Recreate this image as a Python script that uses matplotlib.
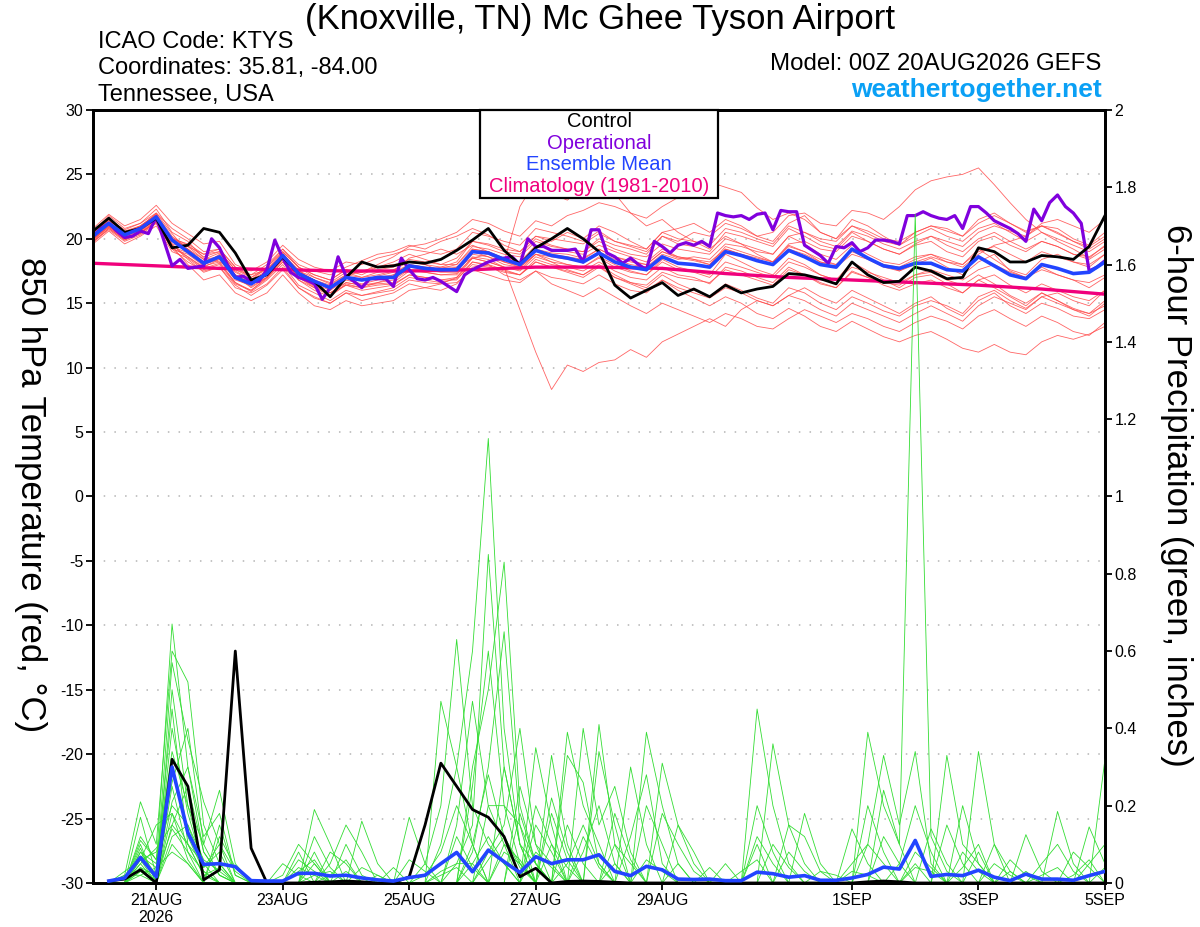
import numpy as np
import matplotlib
matplotlib.use("Agg")
import matplotlib.pyplot as plt
from matplotlib.patches import Rectangle

plt.rcParams["font.family"] = ["Liberation Sans", "DejaVu Sans"]
plt.rcParams["axes.unicode_minus"] = False

# 6-hourly steps from 00Z 20AUG2026 (65 points), operational is 3-hourly (129 points)
control_temp = [20.6, 21.6, 20.5, 20.8, 21.6, 19.3, 19.5, 20.8, 20.5, 18.9,
                16.8, 17.2, 18.6, 17.3, 16.7, 15.5, 17.0, 18.2, 17.8, 17.9, 18.2, 18.1, 18.4,
                19.1, 19.9, 20.8, 19.1, 18.0, 19.3, 20.0, 20.8, 20.0, 19.0,
                16.4, 15.4, 16.0, 16.6, 15.6, 16.1, 15.5, 16.4, 15.8, 16.1, 16.3, 17.3, 17.2, 16.9, 16.5,
                18.2, 17.2, 16.6, 16.7, 17.8, 17.5, 16.9, 17.0, 19.3, 19.0, 18.2, 18.2, 18.7, 18.6, 18.4, 19.4, 21.8]

mean_temp = [20.2, 21.2, 20.3, 20.8, 21.7, 19.9, 19.0, 18.1, 18.6, 17.0,
             16.5, 17.3, 18.7, 17.3, 16.7, 16.2, 17.0, 16.8, 17.0, 17.0, 17.9, 17.7, 17.6,
             17.6, 19.0, 18.9, 18.4, 18.0, 19.1, 18.7, 18.5, 18.2, 18.9,
             18.2, 17.8, 17.6, 18.6, 18.1, 18.0, 17.8, 19.0, 18.7, 18.3, 18.0, 19.1, 18.6, 18.0, 17.8,
             19.2, 18.5, 17.9, 17.7, 18.1, 18.1, 17.6, 17.5, 18.6, 17.9, 17.2, 16.9, 18.0, 17.7, 17.3, 17.4, 18.2]

oper_temp = [20.2, 20.8, 21.2, 20.6, 20.1, 20.2, 20.6, 20.4, 21.7, 19.8,
             17.9, 18.4, 17.7, 17.8, 17.9, 20.0, 19.3, 18.0, 17.0, 17.1,
             16.7, 16.7, 17.6, 19.9, 18.5, 17.4, 17.0, 16.8, 16.5, 15.3,
             16.2, 18.6, 17.1, 16.7, 16.2, 16.9, 16.9, 16.9, 16.3, 18.5,
             17.6, 16.9, 16.8, 17.0, 16.7,
             16.3, 15.9, 17.2, 17.6, 17.9, 18.2, 18.4, 18.5, 18.6, 18.0,
             20.0, 19.4, 19.4, 19.1, 19.1, 19.1, 19.2, 18.2, 20.7, 20.7,
             18.9, 18.6, 18.1, 18.5, 18.0, 17.6, 19.8, 19.4, 18.9, 19.5,
             19.7, 19.5, 19.8, 19.4, 22.0, 21.8, 21.7, 21.8, 21.5, 21.9,
             22.0, 20.7, 22.2,
             22.1, 22.1, 19.5, 19.1, 18.7, 18.1, 19.4, 19.3, 19.7, 19.0,
             19.3, 19.9, 19.9, 19.8, 19.6, 21.8, 21.8, 22.1, 21.8, 21.6,
             21.5, 21.8, 20.8, 22.5, 22.5, 22.0, 21.4, 21.1, 20.8, 20.4,
             19.8, 22.3, 21.4, 22.8, 23.4, 22.5, 22.0, 21.2, 17.5, 17.8, 18.3]

# daily climatology, 20AUG .. 5SEP
clim_temp = [18.1, 17.9, 17.7, 17.6, 17.5, 17.5, 17.6, 17.8, 17.8, 17.7,
             17.3, 17.0, 16.8, 16.6, 16.4, 16.1, 15.7]

temp_members = [
    [20.5, 21.8, 20.8, 21.2, 22.3, 20.5, 19.8, 18.5, 18.2, 17.5,
     16.8, 17.8, 19.2, 18.0, 17.5, 17.2, 17.8, 18.3, 18.8, 19.0, 19.5, 19.2, 19.8,
     20.2, 20.8, 20.3, 19.5, 19.0, 20.2, 19.8, 20.5, 20.0, 21.0,
     20.5, 19.8, 19.2, 20.5, 20.8, 21.2, 20.5, 21.5, 21.0, 20.2, 19.8, 21.2, 21.8, 20.5, 20.0,
     21.5, 21.0, 20.2, 19.5, 20.5, 21.0, 20.8, 20.2, 21.5, 22.0, 21.2, 20.5, 21.0, 20.8, 20.0, 19.5, 20.5],
    [19.8, 20.8, 19.9, 20.5, 21.2, 19.2, 18.2, 17.5, 17.8, 16.2,
     15.8, 16.5, 17.8, 16.2, 15.5, 15.0, 15.8, 15.2, 15.5, 15.8, 16.5, 16.2, 16.0,
     16.5, 17.8, 18.0, 17.2, 16.8, 17.5, 16.5, 16.0, 15.5, 16.2,
     15.5, 14.8, 14.2, 15.0, 14.5, 14.0, 13.5, 14.2, 13.8, 13.2, 13.0, 13.8, 14.5, 14.0, 13.5,
     14.2, 13.8, 13.2, 12.8, 13.5, 14.0, 13.6, 13.0, 14.0, 14.5, 13.8, 13.2, 14.0, 13.5, 12.8, 12.5, 13.5],
    [20.4, 21.4, 20.6, 21.0, 21.9, 20.2, 19.2, 18.0, 18.8, 17.2,
     16.2, 17.0, 18.5, 17.5, 16.8, 16.0, 17.2, 17.5, 17.8, 18.0, 18.2, 18.0, 17.5,
     17.8, 18.5, 18.2, 17.8, 14.5, 11.2, 8.3, 10.2, 9.7, 10.4,
     10.6, 11.4, 10.8, 12.0, 12.6, 13.2, 13.8, 13.2, 14.5, 15.2, 14.8, 15.6, 16.2, 15.5, 15.0,
     16.0, 15.4, 14.8, 14.2, 15.0, 15.5, 14.6, 14.0, 15.2, 15.8, 14.8, 14.2, 15.0, 14.6, 14.0, 13.8, 14.5],
    [20.0, 21.0, 20.1, 20.6, 21.5, 19.6, 19.4, 18.8, 19.2, 17.8,
     17.0, 17.8, 19.0, 17.8, 17.0, 16.6, 17.4, 17.0, 17.2, 17.5, 18.5, 18.8, 19.2,
     18.8, 19.5, 19.0, 18.2, 22.5, 24.5, 23.5, 23.0, 24.0, 24.2,
     23.5, 22.0, 21.0, 21.5, 20.5, 19.8, 19.2, 20.2, 19.6, 18.8, 18.2, 19.5, 19.0, 18.2, 18.0,
     19.2, 18.5, 18.0, 17.5, 18.0, 18.5, 17.8, 17.2, 18.2, 18.8, 17.5, 17.0, 17.8, 17.2, 16.8, 16.2, 17.0],
    [20.6, 21.6, 20.5, 20.9, 22.0, 20.8, 20.0, 19.0, 19.2, 17.8,
     17.2, 17.6, 19.0, 17.8, 17.2, 16.8, 17.6, 17.2, 17.8, 18.2, 18.8, 18.4, 18.0,
     18.5, 19.8, 19.5, 19.0, 18.8, 20.0, 19.5, 19.2, 19.0, 20.0,
     19.5, 19.2, 18.8, 20.2, 19.8, 20.5, 20.2, 21.2, 20.8, 20.2, 20.5, 21.8, 22.0, 21.2, 21.0,
     22.2, 22.0, 21.5, 22.5, 23.8, 24.5, 24.8, 25.0, 25.5, 24.2, 22.8, 21.5, 20.5, 19.8, 19.2, 18.5, 19.5],
    [19.6, 20.6, 19.6, 20.2, 21.0, 19.0, 18.5, 17.6, 18.0, 16.5,
     16.0, 17.0, 18.2, 16.8, 16.0, 15.5, 16.5, 16.2, 16.4, 16.5, 17.2, 17.0, 16.8,
     16.8, 18.2, 18.0, 17.6, 17.2, 18.4, 18.0, 17.8, 17.5, 18.2,
     17.5, 17.0, 16.8, 17.8, 17.2, 17.0, 16.5, 17.8, 17.5, 17.0, 16.6, 17.8, 17.2, 16.5, 16.2,
     17.5, 17.0, 16.4, 16.0, 16.5, 16.8, 16.2, 15.8, 16.8, 17.2, 16.4, 15.8, 16.5, 16.0, 15.5, 15.2, 16.0],
    [20.8, 21.9, 21.0, 21.5, 22.6, 21.2, 20.4, 19.6, 19.8, 18.0,
     17.5, 18.2, 19.5, 18.4, 17.8, 17.5, 18.2, 18.0, 18.5, 18.8, 19.2, 19.0, 18.8,
     19.2, 20.5, 20.2, 19.8, 19.5, 20.8, 20.5, 20.2, 19.8, 20.6,
     19.8, 19.4, 19.0, 20.2, 19.6, 19.4, 19.0, 20.5, 20.2, 19.8, 19.4, 20.8, 20.2, 19.5, 19.2,
     20.5, 19.8, 19.2, 18.8, 19.5, 19.8, 19.0, 18.6, 19.8, 20.2, 19.5, 19.0, 19.8, 19.4, 18.8, 18.4, 19.2],
    [20.0, 20.9, 20.0, 20.4, 21.4, 19.4, 18.0, 16.8, 17.2, 15.8,
     15.2, 15.8, 17.2, 15.8, 14.8, 14.5, 15.2, 14.8, 15.0, 15.2, 16.0, 16.2, 16.5,
     17.0, 18.5, 18.8, 18.2, 17.8, 18.8, 18.4, 18.0, 17.8, 18.6,
     18.0, 17.5, 17.2, 18.4, 17.8, 17.5, 17.2, 18.8, 18.2, 17.6, 17.2, 18.5, 18.0, 17.2, 16.8,
     18.2, 17.5, 16.8, 16.2, 17.0, 17.2, 16.5, 15.8, 16.8, 16.2, 15.5, 14.8, 15.8, 15.2, 14.5, 14.0, 15.0],
    [20.2, 21.2, 20.4, 20.9, 21.8, 20.0, 19.4, 18.4, 18.9, 17.4,
     16.8, 17.5, 18.8, 17.6, 16.5, 16.0, 16.8, 16.5, 16.8, 17.2, 18.0, 17.8, 17.6,
     17.5, 19.2, 19.0, 18.5, 18.2, 19.5, 19.2, 19.0, 18.8, 19.5,
     19.0, 18.6, 18.2, 19.2, 18.6, 18.4, 18.0, 19.4, 19.0, 18.6, 18.2, 19.6, 19.8, 19.2, 19.0,
     20.2, 19.8, 19.2, 18.8, 19.6, 20.2, 19.8, 19.4, 20.5, 21.0, 20.6, 20.2, 21.2, 21.5, 21.0, 20.5, 21.5],
    [19.9, 21.0, 20.2, 20.6, 21.5, 19.5, 18.6, 17.8, 18.4, 16.8,
     16.4, 17.2, 18.6, 17.0, 16.4, 15.8, 16.6, 16.4, 16.5, 16.6, 17.5, 17.4, 17.2,
     17.2, 18.6, 18.4, 17.8, 17.6, 18.8, 18.2, 17.6, 17.2, 18.0,
     17.2, 16.6, 16.2, 17.2, 16.5, 16.0, 15.5, 16.5, 16.0, 15.4, 15.0, 16.2, 15.8, 15.0, 14.5,
     15.5, 15.0, 14.4, 14.0, 14.8, 15.2, 14.8, 14.2, 15.5, 16.0, 15.2, 14.6, 15.5, 15.0, 14.5, 14.2, 15.2],
    [20.3, 21.3, 20.2, 20.7, 21.6, 19.8, 19.2, 18.2, 18.5, 17.0,
     16.6, 17.4, 18.9, 17.4, 16.8, 16.4, 17.2, 17.0, 17.4, 17.6, 18.2, 18.0, 17.8,
     17.8, 19.0, 18.6, 18.0, 17.8, 18.8, 18.6, 18.4, 18.2, 19.0,
     18.4, 18.0, 17.8, 18.8, 18.4, 18.6, 18.4, 19.6, 19.4, 19.0, 18.8, 20.2, 19.6, 18.8, 18.4,
     19.5, 18.8, 18.2, 18.0, 18.6, 18.8, 18.2, 18.0, 19.2, 18.4, 17.6, 17.2, 18.4, 18.8, 18.2, 17.8, 18.8],
    [20.1, 21.1, 20.3, 20.7, 21.7, 20.1, 19.5, 18.6, 19.0, 17.6,
     17.0, 17.6, 18.8, 17.2, 16.6, 16.2, 17.0, 16.8, 17.0, 17.2, 17.8, 17.6, 17.4,
     17.4, 18.8, 18.6, 18.2, 17.9, 19.0, 18.8, 18.6, 18.4, 19.2,
     18.6, 18.2, 18.0, 19.0, 18.6, 18.4, 18.2, 19.2, 18.8, 18.4, 18.0, 19.2, 18.8, 18.2, 17.8,
     18.8, 18.4, 17.8, 17.5, 18.2, 18.6, 18.2, 17.8, 18.8, 19.5, 19.8, 20.2, 21.0, 20.5, 19.8, 19.2, 20.0],
    [19.8, 20.7, 19.8, 20.3, 21.2, 19.2, 18.8, 17.9, 18.2, 16.6,
     15.9, 16.8, 18.0, 16.4, 15.8, 15.2, 16.0, 15.6, 15.8, 16.0, 16.8, 16.6, 16.5,
     16.6, 17.6, 17.2, 16.8, 16.6, 17.5, 17.0, 16.8, 16.5, 17.2,
     16.5, 16.0, 15.8, 16.8, 16.2, 15.8, 15.4, 16.2, 15.8, 15.2, 14.8, 15.6, 15.2, 14.5, 14.0,
     15.0, 14.5, 14.0, 13.5, 14.2, 14.8, 14.2, 13.6, 14.8, 15.5, 15.0, 14.5, 15.5, 15.8, 15.2, 14.8, 16.0],
    [20.6, 21.5, 20.7, 21.2, 22.0, 20.4, 19.0, 18.0, 18.5, 17.2,
     16.5, 17.0, 18.4, 17.0, 16.2, 15.8, 16.4, 16.2, 16.6, 17.0, 17.6, 17.5, 17.8,
     18.2, 19.8, 19.6, 19.2, 19.0, 20.2, 20.0, 19.8, 19.6, 20.4,
     19.8, 19.5, 19.2, 20.5, 20.0, 19.8, 19.5, 20.8, 20.5, 20.0, 19.6, 21.0, 20.5, 19.8, 19.4,
     20.6, 20.2, 19.6, 19.2, 19.8, 20.2, 19.5, 19.0, 20.0, 20.5, 19.8, 19.2, 19.8, 19.4, 18.8, 18.6, 19.4],
    [20.0, 21.0, 20.0, 20.5, 21.4, 19.6, 18.4, 17.4, 17.8, 16.4,
     15.6, 16.4, 17.6, 16.2, 15.4, 15.0, 15.8, 15.6, 15.9, 16.2, 17.0, 16.8, 16.6,
     16.9, 18.0, 17.8, 17.4, 17.2, 18.2, 17.8, 17.5, 17.2, 17.9,
     17.0, 16.6, 16.4, 17.4, 17.0, 16.8, 16.6, 17.6, 17.2, 16.8, 16.4, 17.6, 17.2, 16.6, 16.2,
     17.4, 17.0, 16.6, 16.4, 17.2, 17.6, 17.2, 16.8, 17.6, 18.0, 17.4, 17.0, 17.6, 17.2, 16.8, 16.6, 17.2],
    [20.4, 21.2, 20.4, 21.0, 21.8, 20.0, 19.6, 18.8, 19.0, 17.6,
     17.2, 18.0, 19.2, 17.8, 17.2, 16.8, 17.6, 17.4, 17.6, 17.8, 18.4, 18.2, 18.0,
     18.0, 19.4, 19.2, 18.8, 18.6, 19.8, 19.4, 19.2, 19.0, 19.8,
     19.2, 18.8, 18.6, 19.6, 19.2, 19.0, 18.8, 20.0, 19.6, 19.2, 18.8, 20.2, 20.5, 20.0, 19.8,
     21.0, 20.6, 20.0, 19.8, 20.5, 21.0, 20.6, 20.2, 21.2, 21.8, 21.2, 20.6, 21.0, 20.4, 19.8, 19.4, 20.2],
    [19.7, 20.8, 19.9, 20.4, 21.3, 19.4, 18.9, 18.0, 18.4, 16.9,
     16.3, 17.0, 18.4, 17.0, 16.3, 15.8, 16.6, 16.4, 16.6, 16.8, 17.6, 17.4, 17.2,
     17.3, 18.5, 18.2, 17.8, 17.5, 18.6, 18.2, 18.0, 17.8, 18.5,
     17.8, 17.4, 17.2, 18.2, 17.6, 17.4, 17.0, 18.2, 17.8, 17.4, 17.0, 18.2, 17.8, 17.2, 16.8,
     17.8, 17.4, 17.0, 16.6, 17.2, 17.4, 16.8, 16.4, 17.2, 16.5, 15.6, 15.0, 15.8, 15.2, 14.6, 14.2, 14.8],
    [20.5, 21.4, 20.5, 21.0, 21.9, 19.8, 19.0, 18.2, 18.7, 17.0,
     16.7, 17.3, 18.6, 17.2, 16.6, 16.2, 17.0, 16.8, 17.1, 17.4, 18.0, 17.8, 17.7,
     18.0, 19.2, 19.0, 18.5, 18.2, 19.2, 18.9, 18.8, 18.5, 19.2,
     18.6, 18.3, 18.0, 19.0, 18.5, 18.3, 18.0, 19.2, 18.8, 18.5, 18.2, 19.4, 19.0, 18.4, 18.0,
     19.0, 18.5, 18.0, 17.8, 18.4, 18.8, 18.4, 18.0, 19.0, 19.4, 18.8, 18.2, 19.0, 18.6, 18.2, 18.0, 18.8],
    [20.3, 21.2, 20.2, 20.8, 21.6, 20.0, 19.2, 18.4, 18.6, 17.2,
     16.6, 17.5, 18.8, 17.5, 17.0, 16.5, 17.2, 17.4, 18.0, 18.6, 19.4, 19.6, 20.0,
     20.5, 21.5, 21.2, 20.6, 20.2, 21.4, 21.0, 21.8, 22.2, 22.8,
     22.5, 22.0, 21.6, 22.5, 23.2, 23.8, 24.4, 24.0, 23.6, 22.4, 21.5, 22.0, 21.5, 20.5, 20.0,
     21.0, 20.4, 19.8, 19.5, 20.2, 20.8, 20.2, 19.8, 20.8, 21.2, 20.5, 19.8, 20.5, 20.0, 19.5, 19.0, 19.8],
    [19.9, 20.9, 20.0, 20.5, 21.3, 19.3, 18.6, 17.7, 18.1, 16.6,
     16.0, 16.9, 18.2, 16.8, 16.2, 15.6, 16.4, 16.0, 16.2, 16.4, 17.2, 17.0, 16.8,
     17.0, 18.2, 17.9, 17.5, 17.2, 18.2, 17.8, 17.4, 17.0, 17.8,
     17.0, 16.5, 16.0, 16.8, 16.0, 15.4, 14.8, 15.5, 15.0, 14.2, 13.8, 14.6, 14.0, 13.2, 12.8,
     13.6, 13.0, 12.4, 12.0, 12.5, 12.8, 12.2, 11.5, 11.2, 11.8, 11.2, 11.0, 12.0, 12.5, 12.2, 12.6, 13.2],
]

control_precip = [0, 0.005, 0.01, 0.034, 0, 0.32, 0.25, 0.008, 0.034, 0.60,
                  0.09, 0, 0, 0, 0.002, 0.003, 0.005, 0.003, 0, 0,
                  0.016, 0.15, 0.31, 0.25, 0.19, 0.17, 0.12, 0.016, 0.038, 0,
                  0.004, 0.005, 0.004, 0.002, 0, 0, 0, 0, 0, 0,
                  0, 0, 0, 0, 0, 0, 0, 0, 0, 0.003,
                  0.005, 0.003, 0, 0, 0, 0, 0, 0, 0, 0,
                  0, 0, 0, 0, 0]

mean_precip = [0, 0.005, 0.013, 0.066, 0.016, 0.30, 0.13, 0.048, 0.05, 0.042,
               0.006, 0.005, 0.005, 0.025, 0.025, 0.018, 0.02, 0.013, 0.008, 0.005,
               0.014, 0.02, 0.05, 0.079, 0.029, 0.085, 0.055, 0.027, 0.068, 0.05,
               0.06, 0.06, 0.073, 0.03, 0.019, 0.043, 0.034, 0.01, 0.009, 0.01,
               0.006, 0.006, 0.028, 0.024, 0.015, 0.019, 0.007, 0.007, 0.013, 0.022,
               0.041, 0.036, 0.11, 0.017, 0.022, 0.019, 0.033, 0.015, 0.006, 0.023,
               0.01, 0.01, 0.007, 0.019, 0.03]

# member precipitation: step index -> inches, all other steps are 0
precip_members = [
    {3: 0.08, 4: 0.05, 5: 0.67, 6: 0.3, 7: 0.08, 8: 0.02, 14: 0.05, 22: 0.1, 23: 0.3,
     24: 0.6, 25: 1.15, 26: 0.4, 27: 0.1, 28: 0.05, 33: 0.05, 42: 0.1, 52: 0.05, 56: 0.08},
    {2: 0.02, 3: 0.21, 4: 0.1, 5: 0.6, 6: 0.52, 7: 0.15, 8: 0.05, 13: 0.08, 16: 0.03, 21: 0.05,
     22: 0.2, 23: 0.63, 24: 0.2, 25: 0.1, 26: 0.05, 30: 0.39, 31: 0.2, 32: 0.1, 42: 0.45,
     43: 0.2, 44: 0.05, 58: 0.03},
    {3: 0.17, 4: 0.02, 5: 0.57, 6: 0.37, 7: 0.21, 8: 0.1, 9: 0.03, 15: 0.05, 16: 0.15, 17: 0.08,
     24: 0.3, 25: 0.5, 26: 0.83, 27: 0.2, 28: 0.05, 49: 0.39, 50: 0.2, 51: 0.1, 52: 1.73,
     53: 0.12, 54: 0.03},
    {3: 0.12, 4: 0.06, 5: 0.34, 6: 0.2, 7: 0.1, 8: 0.24, 9: 0.05, 14: 0.19, 15: 0.1, 22: 0.47,
     23: 0.3, 24: 0.1, 28: 0.35, 29: 0.15, 32: 0.41, 33: 0.1, 48: 0.05, 49: 0.1, 50: 0.33,
     51: 0.15, 52: 0.34, 53: 0.05},
    {3: 0.09, 5: 0.21, 6: 0.3, 7: 0.12, 8: 0.18, 9: 0.02, 12: 0.02, 13: 0.1, 14: 0.05, 25: 0.2,
     26: 0.2, 27: 0.15, 29: 0.33, 30: 0.1, 35: 0.39, 36: 0.2, 37: 0.05, 54: 0.33, 55: 0.1, 56: 0.05},
    {2: 0.03, 3: 0.06, 4: 0.15, 5: 0.18, 6: 0.1, 7: 0.05, 17: 0.16, 18: 0.05, 20: 0.17, 21: 0.05,
     27: 0.25, 28: 0.1, 29: 0.05, 31: 0.4, 32: 0.15, 33: 0.25, 34: 0.08, 45: 0.18, 46: 0.05,
     56: 0.34, 57: 0.1},
    {3: 0.05, 4: 0.09, 5: 0.15, 6: 0.25, 7: 0.08, 8: 0.02, 13: 0.03, 14: 0.06, 24: 0.1, 25: 0.28,
     26: 0.12, 27: 0.05, 30: 0.33, 31: 0.26, 32: 0.05, 36: 0.31, 37: 0.15, 38: 0.05, 43: 0.36,
     44: 0.15, 45: 0.05, 61: 0.185, 62: 0.05},
    {3: 0.1, 5: 0.12, 6: 0.15, 7: 0.04, 8: 0.1, 12: 0.05, 13: 0.02, 19: 0.04, 23: 0.15, 24: 0.47,
     25: 0.2, 26: 0.1, 28: 0.2, 29: 0.1, 34: 0.3, 35: 0.1, 40: 0.05, 49: 0.1, 50: 0.05, 55: 0.2,
     56: 0.05, 59: 0.125, 60: 0.03},
    {3: 0.07, 4: 0.04, 5: 0.3, 6: 0.12, 7: 0.03, 15: 0.08, 16: 0.05, 21: 0.02, 22: 0.08, 23: 0.2,
     24: 0.1, 26: 0.3, 27: 0.1, 32: 0.34, 33: 0.15, 37: 0.15, 38: 0.08, 44: 0.15, 45: 0.12,
     46: 0.03, 63: 0.145, 64: 0.05},
    {3: 0.04, 5: 0.25, 6: 0.08, 8: 0.15, 9: 0.02, 14: 0.12, 15: 0.04, 24: 0.25, 25: 0.6, 26: 0.2,
     27: 0.05, 29: 0.22, 30: 0.08, 35: 0.2, 36: 0.1, 48: 0.14, 49: 0.05, 53: 0.14, 54: 0.05, 64: 0.32},
    {3: 0.03, 4: 0.03, 5: 0.45, 6: 0.1, 7: 0.02, 16: 0.1, 17: 0.02, 25: 0.08, 26: 0.15, 27: 0.4,
     28: 0.1, 33: 0.1, 34: 0.05, 42: 0.2, 43: 0.08, 57: 0.05, 58: 0.02, 62: 0.08, 63: 0.04},
    {2: 0.02, 3: 0.02, 5: 0.5, 6: 0.2, 7: 0.05, 8: 0.05, 14: 0.08, 23: 0.05, 24: 0.15, 25: 0.85,
     26: 0.3, 27: 0.1, 30: 0.05, 31: 0.15, 32: 0.05, 50: 0.24, 51: 0.1, 55: 0.08, 56: 0.03},
    {3: 0.06, 4: 0.08, 5: 0.2, 6: 0.15, 7: 0.06, 8: 0.03, 17: 0.04, 18: 0.02, 22: 0.03, 23: 0.05,
     24: 0.05, 28: 0.15, 29: 0.08, 36: 0.18, 37: 0.1, 38: 0.03, 46: 0.03, 47: 0.02, 60: 0.05,
     61: 0.1, 62: 0.03},
    {3: 0.05, 5: 0.1, 6: 0.05, 13: 0.04, 14: 0.02, 24: 0.08, 25: 0.3, 26: 0.65, 27: 0.15, 28: 0.05,
     30: 0.15, 31: 0.05, 42: 0.12, 43: 0.05, 51: 0.05, 52: 0.2, 53: 0.08, 57: 0.1, 58: 0.03},
    {3: 0.08, 4: 0.02, 5: 0.4, 6: 0.18, 7: 0.04, 8: 0.08, 15: 0.02, 16: 0.06, 24: 0.05, 25: 0.12,
     26: 0.05, 29: 0.18, 30: 0.06, 34: 0.12, 35: 0.28, 36: 0.05, 49: 0.2, 50: 0.08, 58: 0.06, 59: 0.02},
    {3: 0.03, 5: 0.15, 6: 0.1, 7: 0.02, 8: 0.04, 20: 0.06, 21: 0.03, 27: 0.18, 28: 0.05, 31: 0.08,
     32: 0.2, 33: 0.05, 39: 0.04, 44: 0.08, 45: 0.03, 54: 0.15, 55: 0.05, 63: 0.05, 64: 0.1},
    {3: 0.02, 4: 0.04, 5: 0.08, 6: 0.05, 14: 0.02, 15: 0.03, 26: 0.08, 27: 0.05, 33: 0.18, 34: 0.06,
     43: 0.1, 44: 0.04, 52: 0.08, 53: 0.04, 60: 0.02, 61: 0.04},
    {3: 0.11, 4: 0.06, 5: 0.26, 6: 0.4, 7: 0.1, 8: 0.02, 23: 0.12, 24: 0.04, 26: 0.1, 27: 0.06,
     29: 0.1, 30: 0.04, 37: 0.05, 50: 0.12, 51: 0.05, 55: 0.04, 56: 0.1},
    {3: 0.06, 5: 0.18, 6: 0.06, 8: 0.12, 9: 0.04, 13: 0.06, 14: 0.03, 25: 0.06, 26: 0.12, 27: 0.04,
     31: 0.12, 32: 0.04, 41: 0.03, 42: 0.06, 52: 0.04, 53: 0.03, 62: 0.02, 63: 0.06},
    {3: 0.04, 4: 0.02, 5: 0.14, 6: 0.08, 7: 0.03, 18: 0.02, 22: 0.02, 23: 0.04, 28: 0.08, 29: 0.04,
     35: 0.06, 36: 0.03, 48: 0.03, 49: 0.02, 59: 0.03, 64: 0.04},
]

tick_days = [1, 3, 5, 7, 9, 12, 14, 16]
tick_labels = ["21AUG\n2026", "23AUG", "25AUG", "27AUG", "29AUG", "1SEP", "3SEP", "5SEP"]

RED = "#ff4a4a"
GREEN = "#33dd33"
PURPLE = "#8000dd"
BLUE = "#2244ff"
PINK = "#f0007c"


def member_series(spikes, n):
    vals = np.zeros(n)
    for k, v in spikes.items():
        vals[k] = v
    return vals


def plot():
    n = len(mean_temp)
    days = np.arange(n) * 0.25
    oper_days = np.arange(len(oper_temp)) * 0.125
    clim_days = np.arange(len(clim_temp))

    fig = plt.figure(figsize=(12, 9.27), dpi=100)
    ax = fig.add_axes([0.0775, 0.0475, 0.8433, 0.8339])

    for lev in range(-25, 30, 5):
        ax.axhline(lev, color="#b4b4b4", lw=1.1, ls=(0, (1, 6)), zorder=0)

    for m in temp_members:
        ax.plot(days, m, color=RED, lw=0.6, alpha=0.85, zorder=1)
    ax.plot(clim_days, clim_temp, color=PINK, lw=2.4, zorder=2)
    ax.plot(oper_days, oper_temp, color=PURPLE, lw=2.3, zorder=3)
    ax.plot(days, control_temp, color="black", lw=2.0, zorder=4)
    ax.plot(days, mean_temp, color=BLUE, lw=2.6, zorder=5)

    ax.set_xlim(0, 16)
    ax.set_ylim(-30, 30)
    ax.set_yticks(range(-30, 31, 5))
    ax.set_xticks(tick_days)
    ax.set_xticklabels(tick_labels)

    ax2 = ax.twinx()
    for spikes in precip_members:
        ax2.plot(days[1:], member_series(spikes, n)[1:], color=GREEN, lw=0.6, zorder=1)
    ax2.plot(days[1:], control_precip[1:], color="black", lw=2.0, zorder=3)
    ax2.plot(days[1:], mean_precip[1:], color=BLUE, lw=2.6, zorder=4)
    ax2.set_ylim(0, 2)
    ticks2 = np.round(np.arange(0, 2.01, 0.2), 1)
    ax2.set_yticks(ticks2)
    ax2.set_yticklabels(["%g" % t for t in ticks2])

    for a in (ax, ax2):
        for s in a.spines.values():
            s.set_linewidth(2.0)
        a.tick_params(direction="out", length=5, width=1.3, labelsize=11.5, pad=2)

    fig.text(0.5, 0.979, "(Knoxville, TN) Mc Ghee Tyson Airport", ha="center", va="center",
             fontsize=25)
    fig.text(0.0815, 0.955, "ICAO Code: KTYS", ha="left", va="center", fontsize=17)
    fig.text(0.0815, 0.927, "Coordinates: 35.81, -84.00", ha="left", va="center", fontsize=17)
    fig.text(0.0815, 0.898, "Tennessee, USA", ha="left", va="center", fontsize=17)
    fig.text(0.918, 0.931, "Model: 00Z 20AUG2026 GEFS", ha="right", va="center", fontsize=17.3)
    fig.text(0.918, 0.903, "weathertogether.net", ha="right", va="center", fontsize=19,
             fontweight="bold", color="#0aa0f5")

    fig.text(0.025, 0.466, "850 hPa Temperature (red, °C)", rotation=270, ha="center",
             va="center", fontsize=25)
    fig.text(0.980, 0.466, "6-hour Precipitation (green, inches)", rotation=270, ha="center",
             va="center", fontsize=25)

    fig.add_artist(Rectangle((0.4, 0.7864), 0.1983, 0.0949, transform=fig.transFigure,
                             facecolor="white", edgecolor="black", lw=1.6, zorder=5))
    legend = [("Control", "black"), ("Operational", PURPLE),
              ("Ensemble Mean", BLUE), ("Climatology (1981-2010)", PINK)]
    for j, (label, col) in enumerate(legend):
        fig.text(0.4992, 0.8685 - j * 0.0232, label, color=col, ha="center", va="center",
                 fontsize=14.5, zorder=6)

    fig.savefig("out.png", dpi=100)
    plt.close(fig)


def main():
    plot()


if __name__ == "__main__":
    main()
